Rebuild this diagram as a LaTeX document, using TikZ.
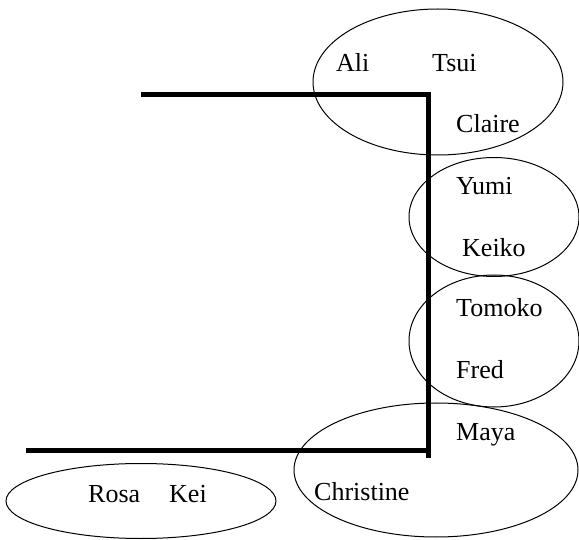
\documentclass[tikz,border=0pt]{standalone}
\usepackage{fontspec}
\setmainfont{Liberation Serif}
\usetikzlibrary{shapes.geometric}
\begin{document}
\begin{tikzpicture}[x=1pt,y=-1pt,
  grp/.style={draw=black,line width=1pt,ellipse,inner sep=0pt},
  nm/.style={anchor=base west,inner sep=0pt,font=\fontsize{26}{28}\selectfont},
  bar/.style={line width=5pt,line cap=butt,line join=miter}]
\useasboundingbox (0,0) rectangle (579,540);
% groups
\node[grp,minimum width=250pt,minimum height=146pt] (g1) at (438,82) {};
\node[grp,minimum width=170pt,minimum height=119pt] (g2) at (494,217) {};
\node[grp,minimum width=170pt,minimum height=132pt] (g3) at (494,341) {};
\node[grp,minimum width=284pt,minimum height=134pt] (g4) at (436,470) {};
\node[grp,minimum width=270pt,minimum height=75pt] (g5) at (141,501) {};
% names
\node[nm] (ali) at (336,72) {Ali};
\node[nm] (tsui) at (432,72) {Tsui};
\node[nm] (claire) at (456,133) {Claire};
\node[nm] (yumi) at (456,195) {Yumi};
\node[nm] (keiko) at (462,257) {Keiko};
\node[nm] (tomoko) at (456,317) {Tomoko};
\node[nm] (fred) at (456,378) {Fred};
\node[nm] (maya) at (456,440) {Maya};
\node[nm] (christine) at (314,500) {Christine};
\node[nm] (rosa) at (88,502) {Rosa};
\node[nm] (kei) at (169,502) {Kei};
% thick lines
\coordinate (t1) at (141,95);
\coordinate (t2) at (428.5,95);
\coordinate (t3) at (428.5,458);
\coordinate (b1) at (26,450.5);
\coordinate (b2) at (431,450.5);
\draw[bar] (t1) -- (t2) -- (t3);
\draw[bar] (b1) -- (b2);
\end{tikzpicture}
\end{document}
